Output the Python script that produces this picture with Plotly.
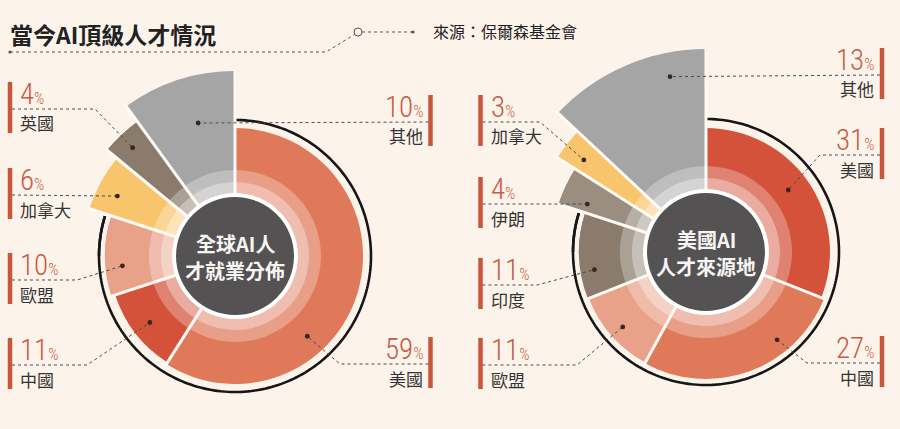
import numpy as np
import plotly.graph_objects as go

W, H = 900, 429

# ---------------- data ----------------
title_text = "當今AI頂級人才情況"
source_text = "來源：保爾森基金會"

left_name = ["全球AI人", "才就業分佈"]
left_labels = ["美國", "中國", "歐盟", "加拿大", "英國", "其他"]
left_values = [59, 11, 10, 6, 4, 10]

right_name = ["美國AI", "人才來源地"]
right_labels = ["美國", "中國", "歐盟", "印度", "伊朗", "加拿大", "其他"]
right_values = [31, 27, 11, 11, 4, 3, 13]

# ---------------- style ----------------
BG = "#fcf4eb"
GAP = "#fffaf4"
ACCENT = "#c9553c"
PCT = "#c95a44"
INK = "#333333"
DARKC = "#545252"
CORAL = "#e0785a"
RED = "#d4523a"
SALMON = "#e9a189"
YELLOW = "#f8c46c"
BROWN = "#8b7b6d"
TAUPE = "#9b8e81"
GRAY = "#a5a5a5"
CJK = "Noto Sans CJK TC"
NARROW = "Roboto Condensed, Roboto, sans-serif"

left_colors = [CORAL, RED, SALMON, YELLOW, BROWN, GRAY]
right_colors = [RED, CORAL, SALMON, BROWN, TAUPE, YELLOW, GRAY]

R_FULL = 170         # full-circle polar radius in pixels (== radial range)
R_QUAD = 225         # upper-left quarter polar radius (for the long slices)
R_DARK, R_WHITE, R_BAND1, R_BAND2 = 59, 63, 74, 86

left_cfg = dict(subs=("polar", "polar2"), cx=235, cy=256, ring=136,
                outer=[128, 126, 130, 153, 166, 185],
                dot_r=[108, 108, 113, 132, 149, 138],
                dot_t=[138, 232, 265, 297, 316.6, 344.5],
                side=["R", "L", "L", "L", "L", "R"],
                top=[337, 338, 253, 168, 82, 95],
                elbow=[340, 87, 77, None, 95, None],
                bar_l=10, bar_r=430.5)
right_cfg = dict(subs=("polar3", "polar4"), cx=706, cy=252, ring=133,
                 outer=[124, 127, 126, 127, 155, 176, 203],
                 dot_r=[103, 113, 112, 113, 128, 153, 179],
                 dot_t=[53, 141, 228, 261, 292, 307, 348.4],
                 side=["R", "R", "L", "L", "L", "L", "R"],
                 top=[128, 336, 338, 258, 177, 95, 48],
                 elbow=[820, 807, 577, 537, None, 540, None],
                 bar_l=480.5, bar_r=882)


def px(x):
    return x / W


def py(y):
    return 1 - y / H


def tint(hexc, f):
    h = hexc.lstrip("#")
    rgb = [int(h[i:i + 2], 16) for i in (0, 2, 4)]
    m = [round(c + (255 - c) * f) for c in rgb]
    return "#%02x%02x%02x" % tuple(m)


fig = go.Figure()
shapes = []
annotations = []


def add_chart(values, labels, colors, name, cfg):
    v = np.array(values, dtype=float)
    share = v / v.sum() * 360.0
    start = np.concatenate([[0], np.cumsum(share)[:-1]])
    centre = start + share / 2
    outer = np.array(cfg["outer"], dtype=float)
    n = len(v)

    big = np.where(outer > cfg["ring"])[0]
    ring_end = start[big[0]] if len(big) else 360
    th = np.linspace(0, ring_end - 1.0, 200)

    gr, gt = [], []
    for k in range(n):
        rmax = max(outer[k - 1], outer[k]) + 3
        gr += [R_DARK + 1, rmax, None]
        gt += [start[k], start[k], None]

    for sub in cfg["subs"]:
        # black ring behind the small slices
        fig.add_trace(go.Scatterpolar(r=[cfg["ring"]] * len(th), theta=th, mode="lines",
                                      line=dict(color="#161616", width=2.6),
                                      hoverinfo="skip", subplot=sub))
        # slices with tinted inner bands
        fig.add_trace(go.Barpolar(r=outer - R_WHITE, base=[R_WHITE] * n, theta=centre, width=share,
                                  marker=dict(color=colors, line=dict(width=0)),
                                  hoverinfo="skip", subplot=sub))
        fig.add_trace(go.Barpolar(r=[R_BAND2 - R_WHITE] * n, base=[R_WHITE] * n, theta=centre,
                                  width=share,
                                  marker=dict(color=[tint(c, 0.28) for c in colors], line=dict(width=0)),
                                  hoverinfo="skip", subplot=sub))
        fig.add_trace(go.Barpolar(r=[R_BAND1 - R_WHITE] * n, base=[R_WHITE] * n, theta=centre,
                                  width=share,
                                  marker=dict(color=[tint(c, 0.52) for c in colors], line=dict(width=0)),
                                  hoverinfo="skip", subplot=sub))
        # centre discs
        fig.add_trace(go.Barpolar(r=[R_WHITE], base=[0], theta=[180], width=[360],
                                  marker=dict(color="#ffffff", line=dict(width=0)),
                                  hoverinfo="skip", subplot=sub))
        fig.add_trace(go.Barpolar(r=[R_DARK], base=[0], theta=[180], width=[360],
                                  marker=dict(color=DARKC, line=dict(width=0)),
                                  hoverinfo="skip", subplot=sub))
        # gaps between slices
        fig.add_trace(go.Scatterpolar(r=gr, theta=gt, mode="lines", connectgaps=False,
                                      line=dict(color=GAP, width=3),
                                      hoverinfo="skip", subplot=sub))

    cx, cy = cfg["cx"], cfg["cy"]
    for j, line in enumerate(name):
        annotations.append(dict(x=px(cx), y=py(cy - 13 + 27 * j), xref="paper", yref="paper",
                                text="<b>" + line + "</b>",
                                showarrow=False, font=dict(family=CJK, size=20, color="#f7f5f3"),
                                xanchor="center", yanchor="middle", align="center"))

    # labels, leader lines, dots
    for k in range(n):
        t = np.deg2rad(cfg["dot_t"][k])
        dx = cx + cfg["dot_r"][k] * np.sin(t)
        dy = cy - cfg["dot_r"][k] * np.cos(t)
        T = cfg["top"][k]
        ly = T + 27
        if cfg["side"][k] == "L":
            bx = cfg["bar_l"]
            x_line0 = bx + 2
            tx, anchor = bx + 8, "left"
        else:
            bx = cfg["bar_r"]
            x_line0 = bx - 2
            tx, anchor = bx - 6, "right"
        shapes.append(dict(type="line", xref="paper", yref="paper", x0=px(bx), x1=px(bx),
                           y0=py(T), y1=py(T + 51), line=dict(color=ACCENT, width=4.5)))
        pts = [(x_line0, ly)]
        if cfg["elbow"][k] is not None:
            pts.append((cfg["elbow"][k], ly))
        pts.append((dx, dy))
        path = "M " + " L ".join("%.5f,%.5f" % (px(a), py(b)) for a, b in pts)
        shapes.append(dict(type="path", xref="paper", yref="paper", path=path, layer="above",
                           line=dict(color="#4a4a4a", width=1, dash="dot")))
        rr = 2.4
        shapes.append(dict(type="circle", xref="paper", yref="paper", layer="above",
                           x0=px(dx - rr), x1=px(dx + rr), y0=py(dy - rr), y1=py(dy + rr),
                           fillcolor="#3a2620", line=dict(width=0)))
        annotations.append(dict(x=px(tx), y=py(T + 12), xref="paper", yref="paper", showarrow=False,
                                text="%d<span style='font-size:16px'>%%</span>" % values[k],
                                font=dict(family=NARROW, size=29, color=PCT, weight=300),
                                xanchor=anchor, yanchor="middle"))
        annotations.append(dict(x=px(tx), y=py(T + 41), xref="paper", yref="paper", showarrow=False,
                                text=labels[k], font=dict(family=CJK, size=17, color=INK),
                                xanchor=anchor, yanchor="middle"))


add_chart(left_values, left_labels, left_colors, left_name, left_cfg)
add_chart(right_values, right_labels, right_colors, right_name, right_cfg)


def axes_off():
    return dict(radialaxis=dict(visible=False, showgrid=False, showline=False,
                                showticklabels=False, ticks=""),
                angularaxis=dict(direction="clockwise", rotation=90, visible=False, showgrid=False,
                                 showline=False, showticklabels=False, ticks=""))


def polar_full(cx, cy):
    d = dict(domain=dict(x=[px(cx - R_FULL), px(cx + R_FULL)], y=[py(cy + R_FULL), py(cy - R_FULL)]),
             bgcolor="rgba(0,0,0,0)", barmode="overlay", bargap=0, hole=0, **axes_off())
    d["radialaxis"]["range"] = [0, R_FULL]
    return d


def polar_quad(cx, cy):
    # upper-left quarter of the same circle, with a larger radius so long slices fit
    d = dict(domain=dict(x=[px(cx - R_QUAD), px(cx)], y=[py(cy), py(cy - R_QUAD)]),
             sector=[90, 180],
             bgcolor="rgba(0,0,0,0)", barmode="overlay", bargap=0, hole=0, **axes_off())
    d["radialaxis"]["range"] = [0, R_QUAD]
    return d


# title decoration
shapes.append(dict(type="path", xref="paper", yref="paper", layer="above",
                   path="M %.5f,%.5f L %.5f,%.5f L %.5f,%.5f" % (px(10), py(52), px(326), py(52),
                                                                 px(354.5), py(34.5)),
                   line=dict(color="#555555", width=1, dash="dot")))
shapes.append(dict(type="path", xref="paper", yref="paper", layer="above",
                   path="M %.5f,%.5f L %.5f,%.5f" % (px(362), py(32), px(413), py(32)),
                   line=dict(color="#555555", width=1, dash="dot")))
shapes.append(dict(type="circle", xref="paper", yref="paper", layer="above",
                   x0=px(354), x1=px(362), y0=py(36), y1=py(28),
                   fillcolor=BG, line=dict(color="#555555", width=1)))
for (a, b) in [(10, 52), (413, 32)]:
    shapes.append(dict(type="circle", xref="paper", yref="paper", layer="above",
                       x0=px(a - 1.6), x1=px(a + 1.6), y0=py(b - 1.6), y1=py(b + 1.6),
                       fillcolor="#555555", line=dict(width=0)))

annotations.append(dict(x=px(8), y=py(34), xref="paper", yref="paper", showarrow=False,
                        text="<b>" + title_text + "</b>", xanchor="left", yanchor="middle",
                        font=dict(family=CJK, size=23, color="#222222")))
annotations.append(dict(x=px(431), y=py(31), xref="paper", yref="paper", showarrow=False,
                        text=source_text, xanchor="left", yanchor="middle",
                        font=dict(family=CJK, size=16, color="#222222")))

fig.update_layout(width=W, height=H, margin=dict(l=0, r=0, t=0, b=0),
                  paper_bgcolor=BG, plot_bgcolor=BG, showlegend=False,
                  font=dict(family=CJK),
                  polar=polar_full(left_cfg["cx"], left_cfg["cy"]),
                  polar2=polar_quad(left_cfg["cx"], left_cfg["cy"]),
                  polar3=polar_full(right_cfg["cx"], right_cfg["cy"]),
                  polar4=polar_quad(right_cfg["cx"], right_cfg["cy"]),
                  shapes=shapes, annotations=annotations)

fig.write_html("out.html")
